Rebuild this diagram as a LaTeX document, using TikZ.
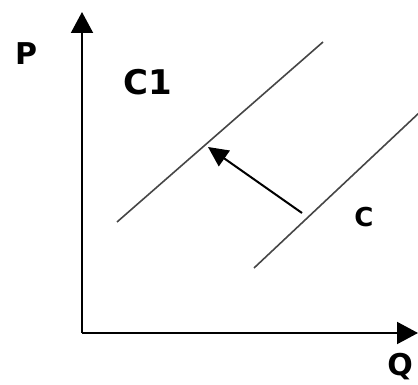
\documentclass[tikz,border=0pt]{standalone}
\usepackage{fontspec}
\setmainfont{DejaVu Sans}
\usetikzlibrary{arrows.meta, positioning}
\definecolor{curve}{RGB}{70,70,70}

\begin{document}
\begin{tikzpicture}[
    x=1pt, y=-1pt,
    axis/.style={-{Triangle[length=21pt, width=22pt]}, line width=2pt},
    curveline/.style={line width=1.6pt, color=curve},
    shiftarr/.style={-{Triangle[length=20pt, width=19pt]}, line width=2pt},
    lbl/.style={inner sep=0pt, font=\bfseries\fontsize{30}{30}\selectfont}
  ]
  \useasboundingbox (0,0) rectangle (418,385);
  \coordinate (o) at (82,333);
  \coordinate (ptop) at (82,12);
  \coordinate (qend) at (418,333);
  \draw[axis] (o) -- (ptop);
  \draw[axis] (o) -- (qend);
  \node[lbl] (p) at (26,54) {P};
  \node[lbl] (q) at (400,367) {Q};
  % curves
  \coordinate (c1a) at (117,222);
  \coordinate (c1b) at (323,42);
  \coordinate (ca) at (254,268);
  \coordinate (cb) at (420,112);
  \draw[curveline] (c1a) -- (c1b);
  \draw[curveline] (ca) -- (cb);
  \node[lbl, font=\bfseries\fontsize{34}{34}\selectfont] (c1) at (148,82) {C1};
  \node[lbl, font=\bfseries\fontsize{26}{26}\selectfont] (c) at (364,217) {C};
  % shift
  \coordinate (from) at (302,213);
  \coordinate (to) at (208,147);
  \draw[shiftarr] (from) -- (to);
\end{tikzpicture}
\end{document}
